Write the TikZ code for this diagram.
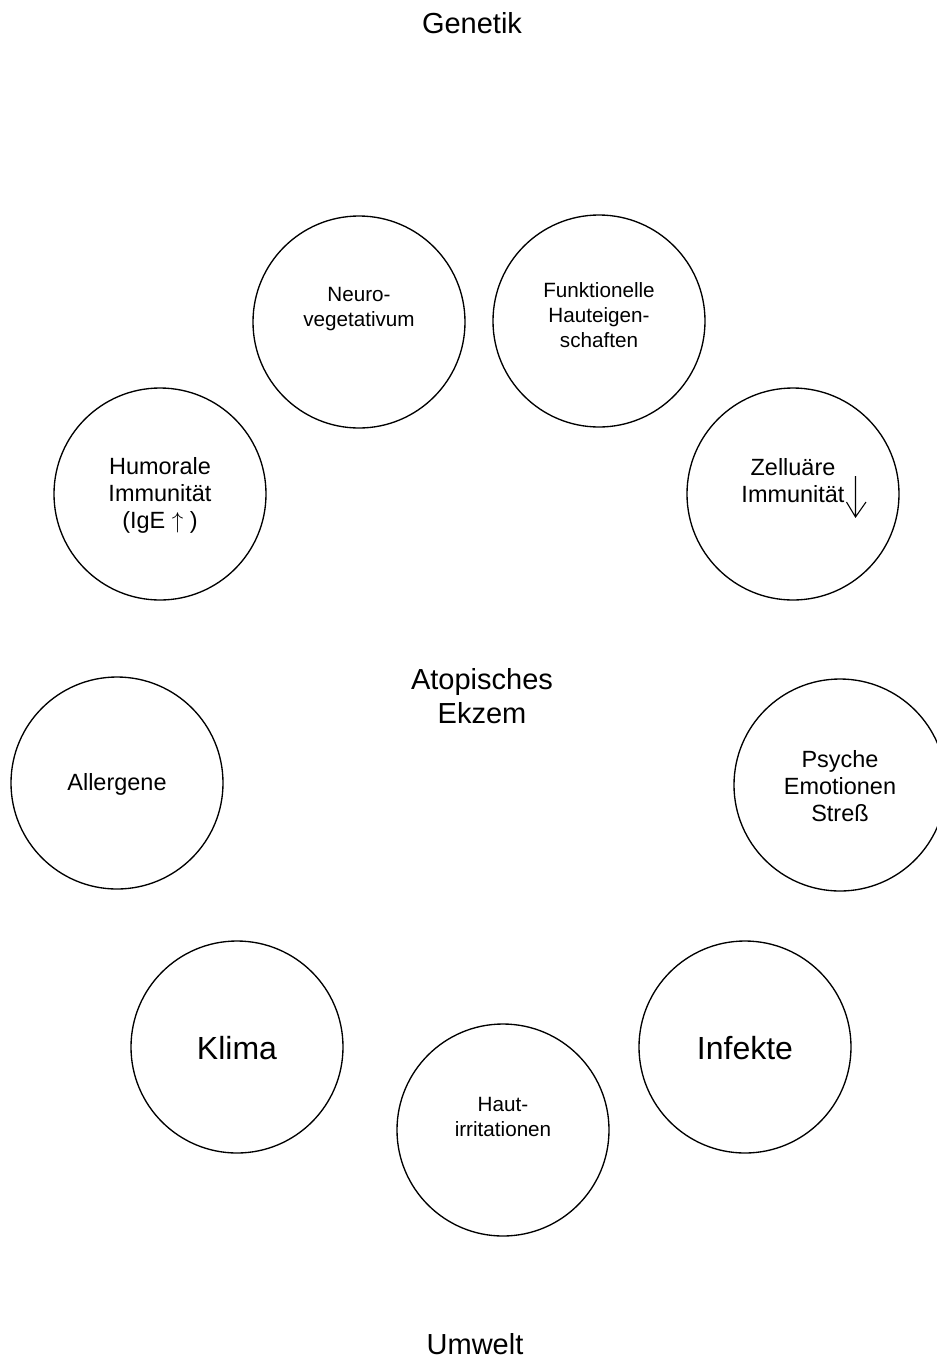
\documentclass[tikz,border=0pt]{standalone}
\usepackage{fontspec}
\setmainfont{Liberation Sans}
\begin{document}
\begin{tikzpicture}[x=0.75pt,y=-0.75pt,
	klein/.style={align=center,font=\fontsize{15.5}{18.75}\selectfont},
	mittel/.style={align=center,font=\fontsize{17.6}{20.25}\selectfont},
	gross/.style={align=center,font=\fontsize{21.75}{25.5}\selectfont},
	riesig/.style={align=center,font=\fontsize{24}{28}\selectfont}]
	\useasboundingbox (0,0) rectangle (937,1368);
	\draw[line width=1pt] (359,322)circle(106)(599,321)circle(106)(793,494)circle(106)(160,494)circle(106)
		(117,783)circle(106)(840,785)circle(106)(237,1047)circle(106)(745,1047)circle(106)(503,1130)circle(106);
	\node[gross] (genetik) at (472,23) {Genetik};
	\node[gross] (ekzem) at (482,696) {Atopisches\\Ekzem};
	\node[gross] (umwelt) at (475,1344) {Umwelt};
	\node[klein] (neuro) at (359,309) {Neuro-\\vegetativum};
	\node[klein] (haut) at (599,315) {Funktionelle\\Hauteigen-\\schaften};
	\node[mittel] (zell) at (793,481) {Zelluäre\\Immunität};
	\draw[line width=0.8pt] (855.5,476)--(855.5,517)(846.5,502)--(855.5,517)--(866,502);
	\node[mittel] (humoral) at (160,495) {Humorale\\Immunität\\(IgE $\uparrow$ )};
	\node[mittel] (allergene) at (117,784) {Allergene};
	\node[mittel] (psyche) at (840,786) {Psyche\\Emotionen\\Streß};
	\node[riesig] (klima) at (237,1048) {Klima};
	\node[riesig] (infekte) at (745,1048) {Infekte};
	\node[klein] (irrit) at (503,1117) {Haut-\\irritationen};
\end{tikzpicture}
\end{document}
